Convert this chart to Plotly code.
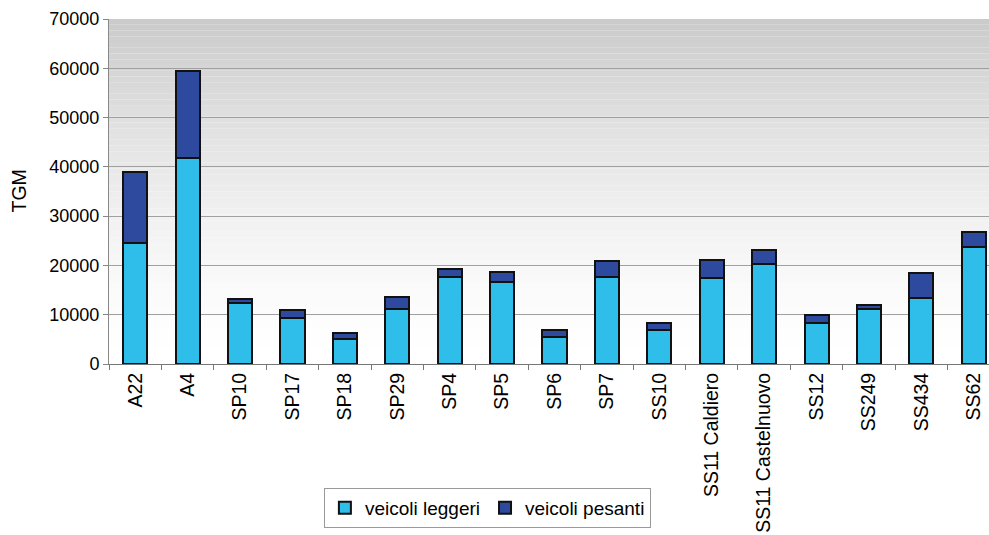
import plotly.graph_objects as go

categories = ["A22", "A4", "SP10", "SP17", "SP18", "SP29", "SP4", "SP5", "SP6", "SP7",
              "SS10", "SS11 Caldiero", "SS11 Castelnuovo", "SS12", "SS249", "SS434", "SS62"]
totals = [39000, 59500, 13100, 11000, 6300, 13500, 19300, 18600, 7000, 21000,
          8400, 21100, 23200, 10000, 12000, 18500, 26700]
leggeri = [24600, 41800, 12300, 9300, 5000, 11100, 17600, 16600, 5400, 17600,
           6800, 17400, 20200, 8400, 11200, 13400, 23700]
pesanti = [t - l for t, l in zip(totals, leggeri)]
y_ticks = [0, 10000, 20000, 30000, 40000, 50000, 60000, 70000]
y_title = "TGM"

fig = go.Figure()
fig.add_trace(go.Bar(x=categories, y=leggeri, name="veicoli leggeri",
                     marker=dict(color="#2fbde9", line=dict(color="#111111", width=2)),
                     width=0.46))
fig.add_trace(go.Bar(x=categories, y=pesanti, name="veicoli pesanti",
                     marker=dict(color="#2e4a9e", line=dict(color="#111111", width=2)),
                     width=0.46))

# gradient background via horizontal bands
n = 60
shapes = []
for i in range(n):
    f = i / (n - 1)  # 0 bottom -> 1 top
    g = int(round(255 - (255 - 203) * (f ** 1.5)))
    shapes.append(dict(type="rect", xref="x domain", yref="y domain",
                       x0=0, x1=1, y0=i / n, y1=(i + 1) / n,
                       fillcolor=f"rgb({g},{g},{g})", line=dict(width=0),
                       layer="below"))

fig.update_layout(
    barmode="stack",
    width=989, height=535,
    margin=dict(l=109, r=0, t=19, b=171),
    paper_bgcolor="white",
    plot_bgcolor="rgba(0,0,0,0)",
    shapes=shapes,
    font=dict(family="Liberation Sans, Arial, sans-serif", size=18, color="black"),
    showlegend=True,
    legend=dict(orientation="h", x=0.43, xanchor="center", y=-0.475, yanchor="bottom",
                bordercolor="#999999", borderwidth=1, bgcolor="white",
                font=dict(size=19), itemwidth=30, traceorder="normal",
                tracegroupgap=0, itemsizing="constant"),
    annotations=[dict(text=y_title, xref="paper", yref="paper", x=-0.1034, y=0.5,
                      xanchor="center", yanchor="middle", textangle=-90,
                      showarrow=False, font=dict(size=19.5))],
)
fig.update_xaxes(
    type="category", range=[-0.5, 16.29], automargin=False,
    tickangle=-90, tickfont=dict(size=19.5),
    showline=True, linecolor="#777777", linewidth=1,
    ticks="outside", tickson="boundaries", ticklen=5, tickcolor="#777777",
    showgrid=False,
)
fig.update_yaxes(
    range=[0, 70000], tickvals=y_ticks, tickformat="d", automargin=False,
    ticksuffix="\u00a0\u00a0",
    tickfont=dict(size=18),
    showline=True, linecolor="#888888", linewidth=1,
    ticks="outside", ticklen=5, tickcolor="#888888",
    showgrid=True, gridcolor="#a0a0a0", gridwidth=1,
    zeroline=False,
)
fig.write_html("out.html")
